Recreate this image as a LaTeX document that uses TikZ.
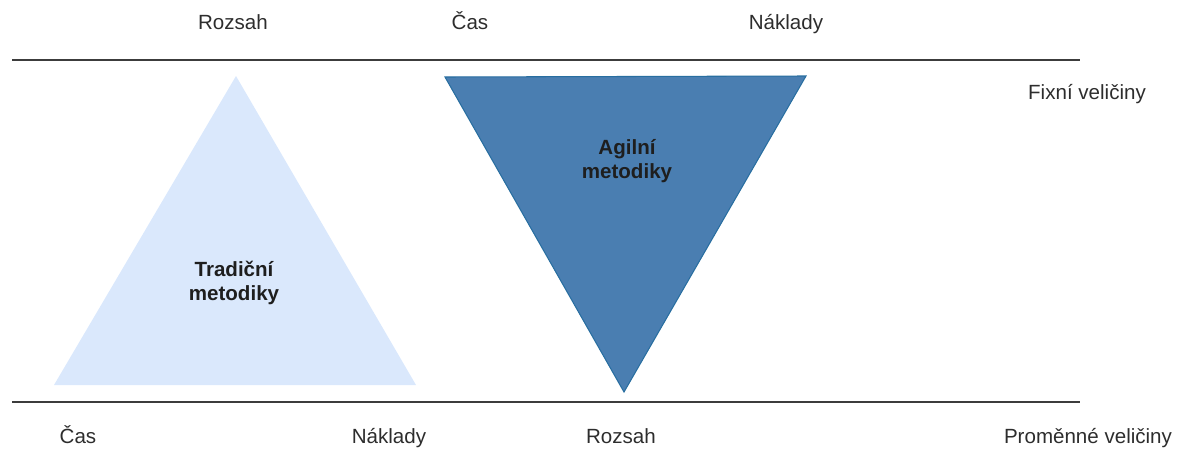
\documentclass[tikz,border=0pt]{standalone}
\usepackage{fontspec}
\setmainfont{Liberation Sans}
\definecolor{lighttri}{RGB}{218,232,252}
\definecolor{darktri}{RGB}{74,126,177}
\definecolor{darkedge}{RGB}{40,110,160}
\definecolor{labeltext}{RGB}{45,45,45}
\definecolor{boldtext}{RGB}{30,30,30}
\definecolor{rulecol}{RGB}{60,60,60}
\begin{document}
\begin{tikzpicture}[x=0.02cm,y=-0.02cm,
  lbl/.style={font=\fontsize{11.7}{14}\selectfont, text=labeltext, inner sep=0pt,
              text height=8.6pt, text depth=2.4pt},
  tri/.style={font=\fontsize{11.7}{14}\selectfont\bfseries, text=boldtext, align=center, inner sep=0pt},
  rule/.style={draw=rulecol, line width=1.1pt}]
\useasboundingbox (0,0) rectangle (1184,450);
% light triangle (traditional)
\fill[lighttri] (236,76) -- (416,385) -- (54,385) -- cycle;
% dark inverted triangle (agile)
\filldraw[fill=darktri, draw=darkedge, line width=0.6pt]
  (445,77) -- (806,76) -- (624,392) -- cycle;
% horizontal rules
\coordinate (t1) at (12,60);
\coordinate (t2) at (1080,60);
\coordinate (b1) at (12,402);
\coordinate (b2) at (1080,402);
\draw[rule] (t1) -- (t2);
\draw[rule] (b1) -- (b2);
% labels
\node[lbl] (rozsahT) at (233,24) {Rozsah};
\node[lbl] (casT) at (470,24) {Čas};
\node[lbl] (nakladyT) at (786,24) {Náklady};
\node[lbl] (fixni) at (1087,94) {Fixní veličiny};
\node[lbl] (casB) at (78,438) {Čas};
\node[lbl] (nakladyB) at (389,438) {Náklady};
\node[lbl] (rozsahB) at (621,438) {Rozsah};
\node[lbl] (promenne) at (1088,438) {Proměnné veličiny};
\node[tri] (trad) at (234,283) {Tradiční\\metodiky};
\node[tri] (agil) at (627,161) {Agilní\\metodiky};
\end{tikzpicture}
\end{document}
